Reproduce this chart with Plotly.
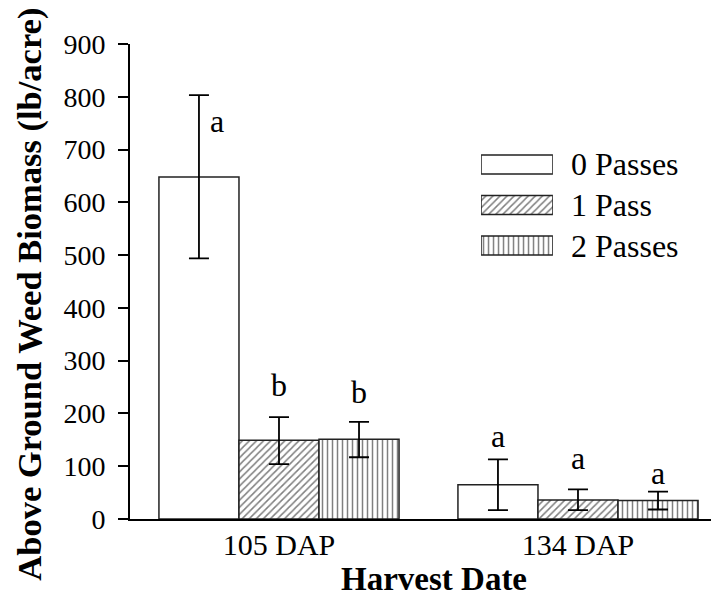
import plotly.graph_objects as go

# ---- data ----
categories = ["105 DAP", "134 DAP"]
series_names = ["0 Passes", "1 Pass", "2 Passes"]
means_0 = [648, 65]
err_up_0 = [155, 48]
err_dn_0 = [154, 48]
means_1 = [149, 36]
err_up_1 = [44, 20]
err_dn_1 = [45, 19]
means_2 = [151, 35]
err_up_2 = [33, 17]
err_dn_2 = [34, 17]
letters_0 = ["a", "a"]
letters_1 = ["b", "a"]
letters_2 = ["b", "a"]
letter_y_0 = [754, 158]
letter_y_1 = [253, 115]
letter_y_2 = [240, 88]

FONT = "Liberation Serif, Times New Roman, serif"
patterns = ["", "/", "|"]
x_pos = list(range(len(categories)))
bargap = 0.197
slot = (1 - bargap) / 3

fig = go.Figure()
all_means = [means_0, means_1, means_2]
all_up = [err_up_0, err_up_1, err_up_2]
all_dn = [err_dn_0, err_dn_1, err_dn_2]
all_letters = [letters_0, letters_1, letters_2]
all_ly = [letter_y_0, letter_y_1, letter_y_2]

for i, name in enumerate(series_names):
    fig.add_trace(go.Bar(
        x=x_pos, y=all_means[i], name=name, showlegend=False,
        marker=dict(color="white", line=dict(color="#222", width=1.5),
                    pattern=dict(shape=patterns[i], fgcolor="black", bgcolor="white",
                                 size=5, solidity=0.3)),
        error_y=dict(type="data", symmetric=False, array=all_up[i],
                     arrayminus=all_dn[i], color="black", thickness=1.8, width=10),
        xaxis="x", yaxis="y",
    ))

# legend swatches drawn as bars on a small inset axis
fig.add_trace(go.Bar(
    x=[1, 1, 1], y=[2, 1, 0], orientation="h", width=0.47, showlegend=False,
    marker=dict(color="white", line=dict(color="#222", width=1.5),
                pattern=dict(shape=patterns, fgcolor="black", bgcolor="white",
                             size=5, solidity=0.3)),
    xaxis="x2", yaxis="y2", hoverinfo="skip",
))

annotations = []
for i in range(3):
    for j, c in enumerate(x_pos):
        xs = c + (i - 1) * slot
        xshift = 18 if (i == 0 and j == 0) else 0
        annotations.append(dict(x=xs, y=all_ly[i][j], xref="x", yref="y",
                                text=all_letters[i][j], showarrow=False, xshift=xshift,
                                xanchor="center", yanchor="middle",
                                font=dict(family=FONT, size=32, color="black")))
for k, name in enumerate(series_names):
    annotations.append(dict(x=1, y=2 - k, xref="x2", yref="y2", text=name,
                            showarrow=False, xanchor="left", yanchor="middle", xshift=16,
                            font=dict(family=FONT, size=32, color="black")))
annotations.append(dict(x=0.516, y=-0.126, xref="paper", yref="paper",
                        text="<b>Harvest Date</b>", showarrow=False,
                        xanchor="center", yanchor="middle",
                        font=dict(family=FONT, size=33, color="black")))
annotations.append(dict(x=-0.170, y=0.474, xref="paper", yref="paper",
                        text="<b>Above Ground Weed Biomass (lb/acre)</b>", showarrow=False,
                        textangle=-90, xanchor="center", yanchor="middle",
                        font=dict(family=FONT, size=34.5, color="black")))

fig.update_layout(
    width=719, height=600,
    margin=dict(l=122, r=8, t=36, b=89),
    paper_bgcolor="white", plot_bgcolor="white",
    barmode="group", bargap=bargap, bargroupgap=0,
    font=dict(family=FONT, color="black"),
    xaxis=dict(range=[-0.4983, 1.4716], tickvals=x_pos, ticktext=categories,
               showline=True, linecolor="black", linewidth=2, ticks="",
               showgrid=False, zeroline=False, ticklabelstandoff=-2,
               tickfont=dict(family=FONT, size=30, color="black")),
    yaxis=dict(range=[0, 900], tickvals=list(range(0, 901, 100)),
               showline=True, linecolor="black", linewidth=2,
               ticks="outside", ticklen=10, tickwidth=2, tickcolor="black",
               ticklabelstandoff=7,
               showgrid=False, zeroline=False,
               tickfont=dict(family=FONT, size=28, color="black")),
    xaxis2=dict(domain=[0.596, 0.718], range=[0, 1], anchor="y2", visible=False,
                fixedrange=True),
    yaxis2=dict(domain=[0.533, 0.789], range=[-0.5, 2.5], anchor="x2", visible=False,
                fixedrange=True),
    annotations=annotations,
)

fig.write_html("out.html", config={"displayModeBar": False})
